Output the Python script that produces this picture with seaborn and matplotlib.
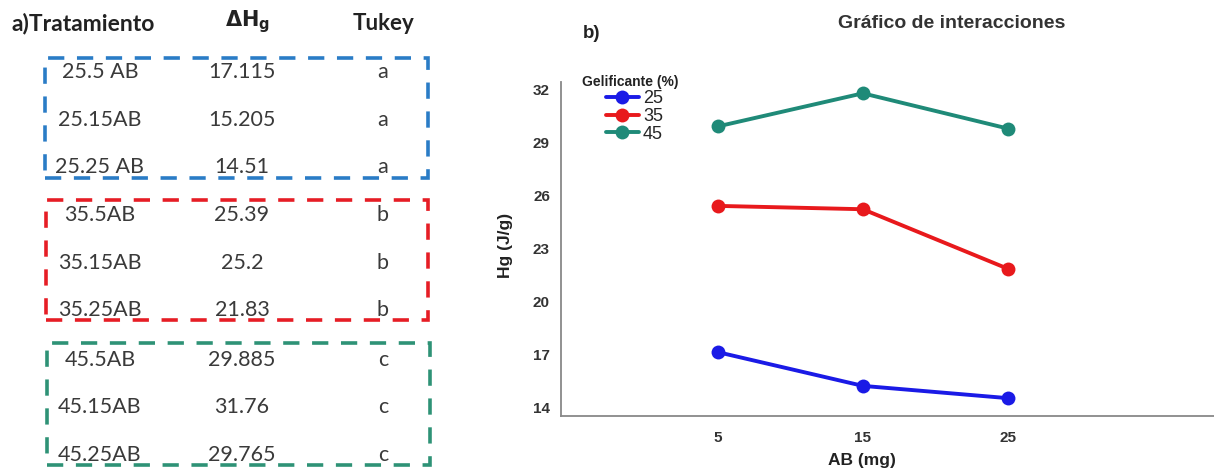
import pandas as pd
import matplotlib.pyplot as plt
import seaborn as sns
from matplotlib.patches import Rectangle

# table data (panel a)
treatments = ['25.5 AB', '25.15AB', '25.25 AB',
              '35.5AB', '35.15AB', '35.25AB',
              '45.5AB', '45.15AB', '45.25AB']
dh_values = ['17.115', '15.205', '14.51',
             '25.39', '25.2', '21.83',
             '29.885', '31.76', '29.765']
tukey = ['a', 'a', 'a', 'b', 'b', 'b', 'c', 'c', 'c']

# interaction data (panel b)
ab_levels = [5, 15, 25]
hg_25 = [17.115, 15.205, 14.51]
hg_35 = [25.39, 25.2, 21.83]
hg_45 = [29.885, 31.76, 29.765]
gel_levels = ['25', '35', '45']
line_colors = ['#1a1ae6', '#e8191c', '#1f8a78']
box_colors = ['#2a7cc6', '#e61d25', '#2e9276']

sns.set_theme(style='white')
plt.rcParams['font.family'] = ['Liberation Sans', 'DejaVu Sans']

W, H = 1214, 469
fig = plt.figure(figsize=(W / 100, H / 100), dpi=100)

def fx(px):
    return px / W

def fy(py):
    return 1 - py / H

# ---- panel a: table ----
tfont = ['Lato', 'DejaVu Sans']
fig.text(fx(11), fy(23), 'a)Tratamiento', fontsize=16.5, fontweight='bold',
         family=tfont, color='#222222', va='center', ha='left')
fig.text(fx(248), fy(22), r'$\mathbf{\Delta H_g}$', fontsize=15,
         color='#222222', va='center', ha='center')
fig.text(fx(384), fy(23), 'Tukey', fontsize=16, fontweight='bold',
         family=tfont, color='#222222', va='center', ha='center')

row_y = [72, 120, 167, 215, 263, 310, 360, 407, 455]
for i in range(len(treatments)):
    fig.text(fx(100), fy(row_y[i]), treatments[i], fontsize=15.5, family=tfont,
             color='#3a3a3a', va='center', ha='center')
    fig.text(fx(242), fy(row_y[i]), dh_values[i], fontsize=15.5, family=tfont,
             color='#3a3a3a', va='center', ha='center')
    fig.text(fx(383), fy(row_y[i]), tukey[i], fontsize=15.5, family=tfont,
             color='#3a3a3a', va='center', ha='center')

boxes = [(45, 58, 428, 178), (46, 200, 428, 320), (47, 343, 430, 465)]
for (x0, y0, x1, y1), c in zip(boxes, box_colors):
    fig.add_artist(Rectangle((fx(x0), fy(y1)), fx(x1) - fx(x0), fy(y0) - fy(y1),
                             transform=fig.transFigure, fill=False, edgecolor=c,
                             linewidth=2.6, linestyle=(0, (4.5, 3.5))))

# ---- panel b: interaction plot ----
df = pd.DataFrame({
    'AB': ab_levels * 3,
    'Hg': hg_25 + hg_35 + hg_45,
    'Gelificante': [g for g in gel_levels for _ in ab_levels],
})

ax = fig.add_axes([fx(561), fy(416), 1 - fx(561), fy(82) - fy(416)])
sns.lineplot(data=df, x='AB', y='Hg', hue='Gelificante', palette=line_colors,
             marker='o', markersize=10, markeredgewidth=0, linewidth=2.8, ax=ax)

ax.set_xlim(-5.8, 39.2)
ax.set_ylim(13.5, 32.4)
ax.set_xticks(ab_levels)
ax.set_yticks([14, 17, 20, 23, 26, 29, 32])
ax.tick_params(length=0, labelsize=11, colors='#333333')
ax.tick_params(axis='x', pad=11)
ax.tick_params(axis='y', pad=8)
for lab in ax.get_xticklabels() + ax.get_yticklabels():
    lab.set_fontweight('bold')
ax.set_xlabel('AB (mg)', fontsize=12.5, fontweight='bold', color='#222222')
ax.xaxis.set_label_coords(0.461, -0.112)
ax.set_ylabel('Hg (J/g)', fontsize=12.5, fontweight='bold', color='#222222')
ax.yaxis.set_label_coords(-0.074, 0.51)
for s in ['top', 'right']:
    ax.spines[s].set_visible(False)
for s in ['left', 'bottom']:
    ax.spines[s].set_color('#888888')
    ax.spines[s].set_linewidth(1.3)

handles, labels = ax.get_legend_handles_labels()
leg = ax.legend(handles, labels, frameon=False, loc='upper left',
                bbox_to_anchor=(fx(606), fy(90)), bbox_transform=fig.transFigure,
                fontsize=13, handlelength=1.8, handletextpad=0.25,
                labelspacing=0.05, borderaxespad=0, borderpad=0)
fig.text(fx(582), fy(82), 'Gelificante (%)', fontsize=10, fontweight='bold',
         color='#222222', va='center', ha='left')

fig.text(fx(583), fy(34), 'b)', fontsize=13.5, fontweight='bold', color='#222222',
         va='center', ha='left')
fig.text(fx(952), fy(24), 'Gráfico de interacciones', fontsize=14,
         fontweight='bold', color='#333333', va='center', ha='center')

fig.savefig('out.png', dpi=100)
